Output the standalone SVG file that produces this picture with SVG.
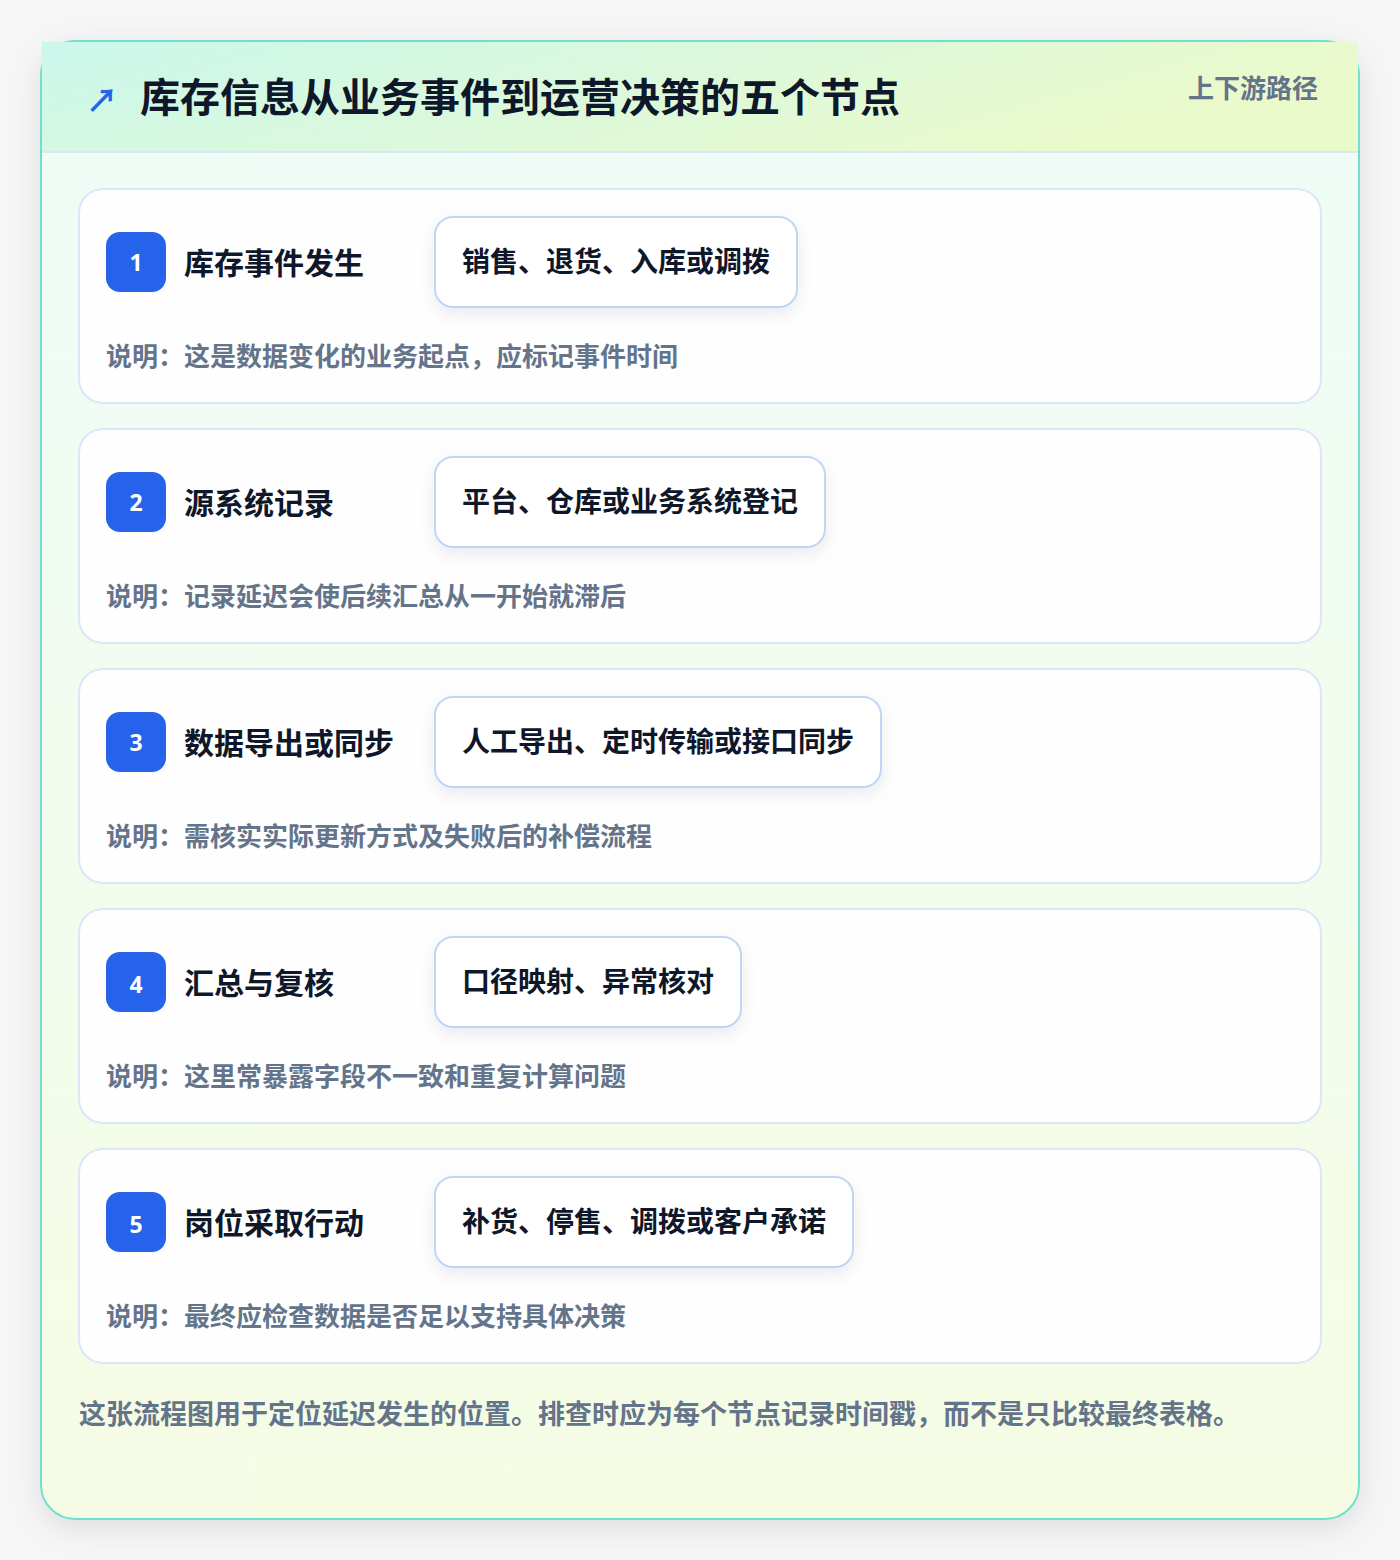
<svg xmlns="http://www.w3.org/2000/svg" width="1400" height="1560" viewBox="0 0 1400 1560">
<defs>
<linearGradient id="hdr" x1="0" y1="0" x2="1" y2="0.3">
<stop offset="0" stop-color="#cbf7ec"/>
<stop offset="1" stop-color="#ebfacb"/>
</linearGradient>
<linearGradient id="body" x1="0" y1="0" x2="0" y2="1">
<stop offset="0" stop-color="#eefcf8"/>
<stop offset="1" stop-color="#f6fce4"/>
</linearGradient>
<filter id="outerShadow" x="-10%" y="-10%" width="120%" height="120%">
<feDropShadow dx="0" dy="8" stdDeviation="14" flood-color="#000" flood-opacity="0.10"/>
</filter>
<filter id="pillShadow" x="-20%" y="-40%" width="140%" height="180%">
<feDropShadow dx="0" dy="6" stdDeviation="8" flood-color="#1e293b" flood-opacity="0.08"/>
</filter>
<style>
text{font-family:"Noto Sans CJK SC","Noto Sans",sans-serif;font-weight:700}
.card{fill:#fdfefd;stroke:#dbe7f7;stroke-width:2}
.badge{fill:#2563eb}
.num{fill:#fff;font-size:23px;text-anchor:middle;font-family:"Noto Sans","Noto Sans CJK SC",sans-serif}
.ttl{fill:#0f172a;font-size:30px}
.pill{fill:#fff;stroke:#bfd7f5;stroke-width:2}
.ptx{fill:#0f172a;font-size:28px}
.desc{fill:#64748b;font-size:26px}
</style>
</defs>
<rect width="1400" height="1560" fill="#f6f6f6"/>
<g id="frame">
<rect x="41" y="41" width="1318" height="1478" rx="34" fill="url(#body)" stroke="#6ee0cc" stroke-width="2" filter="url(#outerShadow)"/>
<rect x="42" y="42" width="1316" height="110" fill="url(#hdr)"/>
<line x1="42" y1="152" x2="1358" y2="152" stroke="#dbe6f5" stroke-width="2"/>
<text x="86" y="112" font-size="32" fill="#2563eb">↗</text>
<text x="140" y="112" font-size="40" fill="#0f172a">库存信息从业务事件到运营决策的五个节点</text>
<text x="1318" y="98" font-size="26" fill="#64748b" text-anchor="end">上下游路径</text>
</g>
<g id="connectors"></g>
<g id="node1">
<rect class="card" x="79" y="189" width="1242" height="214" rx="24"/>
<rect class="badge" x="106" y="232" width="60" height="60" rx="14"/>
<text class="num" x="136" y="271">1</text>
<text class="ttl" x="184" y="274">库存事件发生</text>
<rect class="pill" x="435" y="217" width="362" height="90" rx="18" filter="url(#pillShadow)"/>
<text class="ptx" x="462" y="272">销售、退货、入库或调拨</text>
<text class="desc" x="106" y="366">说明：这是数据变化的业务起点，应标记事件时间</text>
</g>
<g id="node2">
<rect class="card" x="79" y="429" width="1242" height="214" rx="24"/>
<rect class="badge" x="106" y="472" width="60" height="60" rx="14"/>
<text class="num" x="136" y="511">2</text>
<text class="ttl" x="184" y="514">源系统记录</text>
<rect class="pill" x="435" y="457" width="390" height="90" rx="18" filter="url(#pillShadow)"/>
<text class="ptx" x="462" y="512">平台、仓库或业务系统登记</text>
<text class="desc" x="106" y="606">说明：记录延迟会使后续汇总从一开始就滞后</text>
</g>
<g id="node3">
<rect class="card" x="79" y="669" width="1242" height="214" rx="24"/>
<rect class="badge" x="106" y="712" width="60" height="60" rx="14"/>
<text class="num" x="136" y="751">3</text>
<text class="ttl" x="184" y="754">数据导出或同步</text>
<rect class="pill" x="435" y="697" width="446" height="90" rx="18" filter="url(#pillShadow)"/>
<text class="ptx" x="462" y="752">人工导出、定时传输或接口同步</text>
<text class="desc" x="106" y="846">说明：需核实实际更新方式及失败后的补偿流程</text>
</g>
<g id="node4">
<rect class="card" x="79" y="909" width="1242" height="214" rx="24"/>
<rect class="badge" x="106" y="952" width="60" height="60" rx="14"/>
<text class="num" x="136" y="993">4</text>
<text class="ttl" x="184" y="994">汇总与复核</text>
<rect class="pill" x="435" y="937" width="306" height="90" rx="18" filter="url(#pillShadow)"/>
<text class="ptx" x="462" y="992">口径映射、异常核对</text>
<text class="desc" x="106" y="1086">说明：这里常暴露字段不一致和重复计算问题</text>
</g>
<g id="node5">
<rect class="card" x="79" y="1149" width="1242" height="214" rx="24"/>
<rect class="badge" x="106" y="1192" width="60" height="60" rx="14"/>
<text class="num" x="136" y="1233">5</text>
<text class="ttl" x="184" y="1234">岗位采取行动</text>
<rect class="pill" x="435" y="1177" width="418" height="90" rx="18" filter="url(#pillShadow)"/>
<text class="ptx" x="462" y="1232">补货、停售、调拨或客户承诺</text>
<text class="desc" x="106" y="1326">说明：最终应检查数据是否足以支持具体决策</text>
</g>
<g id="footer">
<text x="79" y="1424" font-size="27" fill="#64748b">这张流程图用于定位延迟发生的位置。排查时应为每个节点记录时间戳，而不是只比较最终表格。</text>
</g>
</svg>
